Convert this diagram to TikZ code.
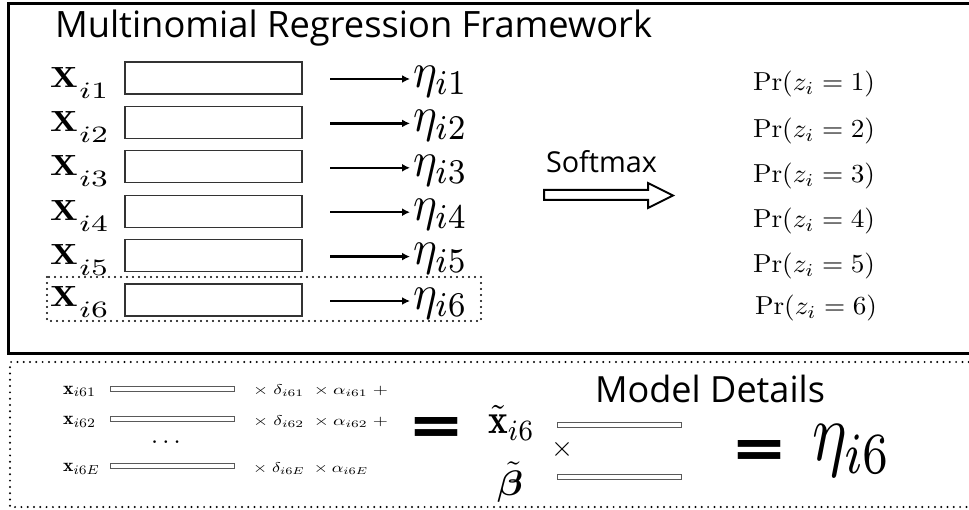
\documentclass[tikz,border=0pt]{standalone}
\usepackage{fontspec}
\setsansfont{Open Sans}
\usepackage{amsmath,bm,graphicx}
\usetikzlibrary{arrows.meta}
\newcommand\fitto[3]{\resizebox*{#1pt}{#2pt}{#3}}
\tikzset{
  lbl/.style={anchor=north west, inner sep=0pt, outer sep=0pt},
  basel/.style={anchor=base west, inner sep=0pt, outer sep=0pt},
  rowbox/.style={draw=black!80, line width=1.3pt, fill=white, inner sep=0pt, minimum width=177pt, minimum height=32pt},
  thinbar/.style={draw=black!65, line width=0.9pt, fill=white, inner sep=0pt, minimum width=124pt, minimum height=5pt},
  rowarrow/.style={line width=2.4pt, -{Latex[length=8pt,width=8pt]}, shorten >=3pt},
  solidframe/.style={line width=3pt},
  dotframe/.style={line width=2.2pt, dash pattern=on 0pt off 6.3pt, line cap=round},
  openarrow/.style={line width=2pt, line join=miter},
}
\begin{document}
\begin{tikzpicture}[x=1pt,y=-1pt]
\useasboundingbox (0,0) rectangle (969,510);
% frames
\draw[solidframe] (975,3.5) -- (8.5,3.5) -- (8.5,353.5) -- (975,353.5);
\draw[dotframe] (975,362) -- (10,362) -- (10,507) -- (975,507);
% title
\node[basel] (title) at (55,38) {\resizebox{597pt}{!}{\sffamily Multinomial Regression Framework}};
% rows
\foreach \k in {1,...,6} {
  \pgfmathsetmacro\c{78+44.4*(\k-1)}
  \pgfmathsetmacro\xt{67+44.4*(\k-1)-3*(\k==6)}
  \pgfmathsetmacro\et{66+44.4*(\k-1)}
  \node[lbl] (X\k) at (50,\xt) {\fitto{58}{31}{$\mathbf{X}\kern0.4pt\raisebox{-3.77pt}{\scalebox{1.15}{$\scriptstyle i\k$}}$}};
  \node[rowbox] (r\k) at (213.5,\c) {};
  \node[lbl] (e\k) at (413,\et) {\fitto{55}{31}{$\eta_{i\k}$}};
  \coordinate (a\k) at (330,\c+1);
  \draw[rowarrow] (a\k) -- (a\k -| e\k.west);
}
\draw[dotframe, line width=2.4pt, dash pattern=on 0pt off 6pt] (47,277) rectangle (481,321);
% softmax
\node[basel] (soft) at (546,173) {\resizebox{111pt}{!}{\sffamily Softmax}};
\draw[openarrow] (544,190) -- (648,190) -- (648,183) -- (673,195.5) -- (648,208) -- (648,200) -- (544,200) -- cycle;
% probabilities
\foreach \k/\t/\l in {1/71/753, 2/118/753, 3/163/753, 4/208/753, 5/253/753, 6/295/755} {
  \node[lbl] (p\k) at (\l,\t) {\fitto{122}{26}{$\Pr(z_i = \k)$}};
}
% model details, left part
\node[lbl] (x1) at (63,386) {\fitto{33}{11}{$\mathbf{x}_{i61}$}};
\node[thinbar] (b1) at (172,388.5) {};
\node[lbl] (o1) at (253,385) {\fitto{135}{12}{$\times\;\delta_{i61}\;\times\alpha_{i61}\;+$}};
\node[lbl] (x2) at (63,416.5) {\fitto{33}{11}{$\mathbf{x}_{i62}$}};
\node[thinbar] (b2) at (172,419) {};
\node[lbl] (o2) at (253,415.5) {\fitto{135}{12}{$\times\;\delta_{i62}\;\times\alpha_{i62}\;+$}};
\node[inner sep=0pt] (dots) at (168,443) {\resizebox{34pt}{!}{$\cdots$}};
\node[lbl] (x3) at (63,463.5) {\fitto{37}{11}{$\mathbf{x}_{i6E}$}};
\node[thinbar] (b3) at (172,466) {};
\node[lbl] (o3) at (253,462.5) {\fitto{115}{12}{$\times\;\delta_{i6E}\;\times\alpha_{i6E}$}};
\node[lbl] (eq1) at (411,417) {\fitto{50}{32}{\sffamily\bfseries =}};
% model details, right part
\node[basel] (md) at (595,402) {\resizebox{230pt}{!}{\sffamily Model Details}};
\node[lbl] (xt) at (488,405) {\fitto{47}{35}{$\tilde{\mathbf{x}}_{i6}$}};
\node[thinbar] (bx) at (619,424.5) {};
\node[inner sep=0pt] (times) at (562,449) {\resizebox{22pt}{!}{$\times$}};
\node[lbl] (bt) at (497,462) {\fitto{26}{40}{$\tilde{\bm\beta}$}};
\node[thinbar] (bb) at (619,476.5) {};
\node[lbl] (eq2) at (734,440) {\fitto{50}{32}{\sffamily\bfseries =}};
\node[lbl] (eta) at (812,425) {\fitto{80}{52}{$\eta_{i6}$}};
\end{tikzpicture}
\end{document}
